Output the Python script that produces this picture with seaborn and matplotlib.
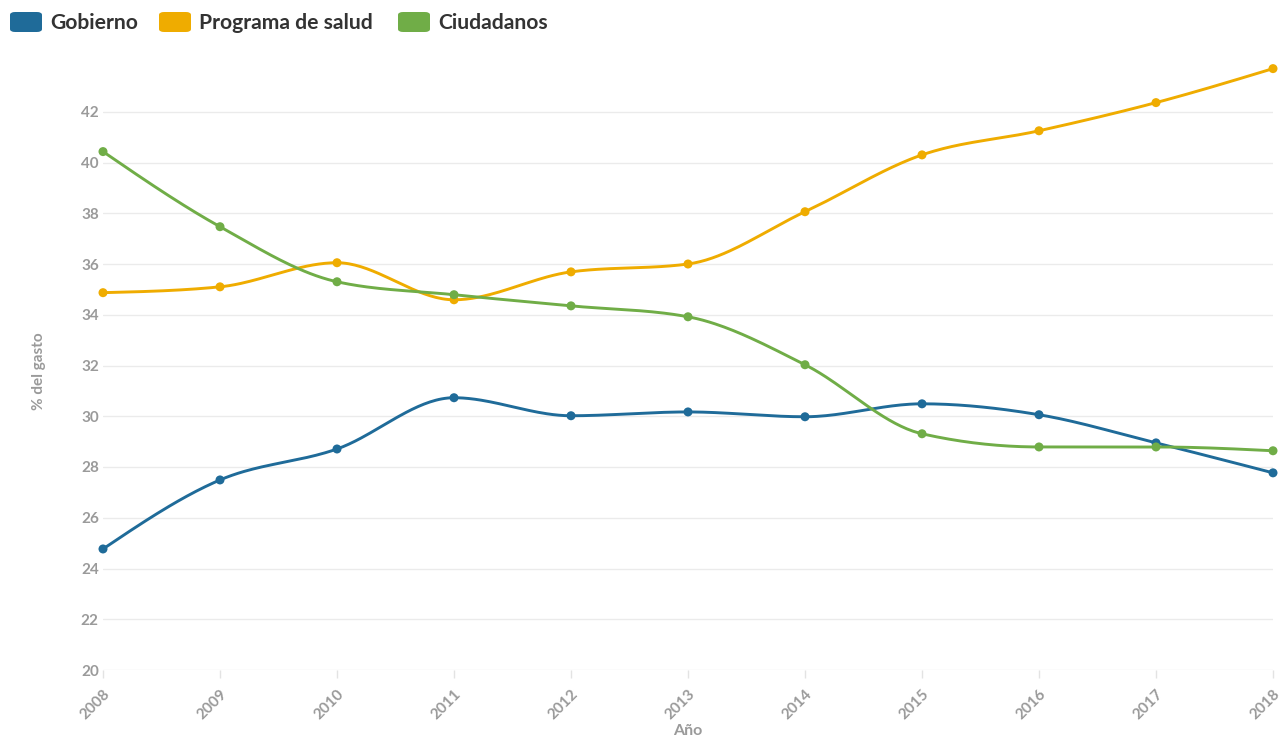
import numpy as np
import pandas as pd
import matplotlib
matplotlib.use("Agg")
import matplotlib.pyplot as plt
import seaborn as sns
from matplotlib.patches import FancyBboxPatch

# ---- data ----
years = [2008, 2009, 2010, 2011, 2012, 2013, 2014, 2015, 2016, 2017, 2018]
gobierno = [24.77, 27.49, 28.71, 30.73, 30.02, 30.17, 29.98, 30.49, 30.06, 28.95, 27.77]
programa_salud = [34.87, 35.10, 36.05, 34.59, 35.69, 36.00, 38.06, 40.30, 41.25, 42.36, 43.70]
ciudadanos = [40.43, 37.47, 35.30, 34.79, 34.35, 33.92, 32.03, 29.31, 28.79, 28.79, 28.64]
series_names = ["Gobierno", "Programa de salud", "Ciudadanos"]
y_ticks = [20, 22, 24, 26, 28, 30, 32, 34, 36, 38, 40, 42]

colors = {"Gobierno": "#1f6b99", "Programa de salud": "#efac00", "Ciudadanos": "#70ad47"}

df = pd.DataFrame({
    "Año": years * 3,
    "valor": gobierno + programa_salud + ciudadanos,
    "serie": [n for n in series_names for _ in years],
})


def monotone_x(x, y, n=40):
    """d3.curveMonotoneX-style smooth path through the points."""
    x = np.asarray(x, float)
    y = np.asarray(y, float)
    h = np.diff(x)
    s = np.diff(y) / h
    t = np.zeros_like(y)
    for i in range(1, len(x) - 1):
        h0, h1 = h[i - 1], h[i]
        s0, s1 = s[i - 1], s[i]
        p = (s0 * h1 + s1 * h0) / (h0 + h1)
        t[i] = (np.sign(s0) + np.sign(s1)) * min(abs(s0), abs(s1), 0.5 * abs(p))
    t[0] = (3 * s[0] - t[1]) / 2
    t[-1] = (3 * s[-1] - t[-2]) / 2
    xs, ys = [], []
    for i in range(len(x) - 1):
        u = np.linspace(0, 1, n)
        dx = h[i]
        h00 = 2 * u**3 - 3 * u**2 + 1
        h10 = u**3 - 2 * u**2 + u
        h01 = -2 * u**3 + 3 * u**2
        h11 = u**3 - u**2
        xs.append(x[i] + u * dx)
        ys.append(h00 * y[i] + h10 * dx * t[i] + h01 * y[i + 1] + h11 * dx * t[i + 1])
    return np.concatenate(xs), np.concatenate(ys)


sns.set_theme(style="white")
plt.rcParams["font.family"] = ["Lato", "DejaVu Sans"]
plt.rcParams["font.weight"] = "bold"

fig = plt.figure(figsize=(12.83, 7.38), dpi=100)
ax = fig.add_axes([103 / 1283, 1 - 670 / 738, 1170 / 1283, 609 / 738])

for name in series_names:
    sub = df[df["serie"] == name]
    cx, cy = monotone_x(sub["Año"], sub["valor"])
    ax.plot(cx, cy, color=colors[name], lw=2.1, solid_capstyle="round", zorder=3, clip_on=False)

sns.scatterplot(data=df, x="Año", y="valor", hue="serie", palette=colors,
                s=42, edgecolor="none", legend=False, ax=ax, zorder=4, clip_on=False)

ax.set_xlim(2008, 2018)
ax.set_ylim(20, 44)
ax.set_yticks(y_ticks)
ax.set_xticks(years)
ax.set_xticklabels([str(y) for y in years])
for sp in ax.spines.values():
    sp.set_visible(False)
ax.grid(axis="y", color="#ebebeb", lw=1.0)
ax.grid(axis="x", visible=False)
ax.set_axisbelow(True)

ax.tick_params(axis="y", length=0, pad=3, labelsize=11, labelcolor="#9a9a9a")
ax.tick_params(axis="x", length=6, width=1, color="#e3e3e3", pad=6,
               labelsize=11, labelcolor="#9a9a9a", direction="out", bottom=True)
for lbl in ax.get_xticklabels():
    lbl.set_rotation(45)
    lbl.set_ha("right")
    lbl.set_va("top")
    lbl.set_rotation_mode("anchor")
    lbl.set_fontweight("bold")
for lbl in ax.get_yticklabels():
    lbl.set_fontweight("bold")

ax.set_xlabel("")
ax.set_ylabel("")
fig.text(39 / 1283, 1 - 371 / 738, "% del gasto", rotation=90, ha="center", va="center",
         fontsize=11, color="#9a9a9a", fontweight="bold")
fig.text(688 / 1283, 1 - 731 / 738, "Año", ha="center", va="center",
         fontsize=11.5, color="#9a9a9a", fontweight="bold")

# legend
leg_items = [("Gobierno", 10, 50), ("Programa de salud", 159, 199), ("Ciudadanos", 398, 438)]
W, H = 1283, 738
for name, sx, tx in leg_items:
    patch = FancyBboxPatch((sx / W, 1 - 32 / H), 32 / W, 20 / H,
                           boxstyle="round,pad=0,rounding_size=0.004",
                           transform=fig.transFigure, facecolor=colors[name],
                           edgecolor="none")
    fig.patches.append(patch)
    fig.text(tx / W, 1 - 23 / H, name, ha="left", va="center", fontsize=15.2,
             color="#333333", fontweight="bold")

fig.savefig("out.png", dpi=100)
